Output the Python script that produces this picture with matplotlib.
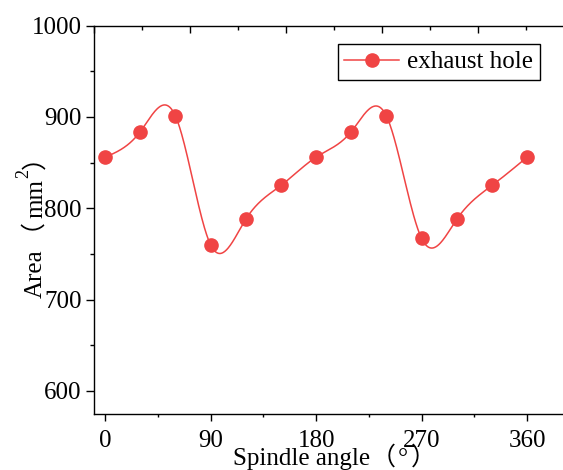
import numpy as np
import matplotlib
matplotlib.use("Agg")
import matplotlib.pyplot as plt
from matplotlib.ticker import MultipleLocator
from matplotlib.transforms import IdentityTransform
from matplotlib.lines import Line2D

# ---- data ----
angles = [0, 30, 60, 90, 120, 150, 180, 210, 240, 270, 300, 330, 360]
area = [856, 884, 901, 760, 788, 825, 856, 884, 901, 767, 788, 825, 856]
series_name = "exhaust hole"
x_ticks = [0, 90, 180, 270, 360]
y_ticks = [600, 700, 800, 900, 1000]

RED = "#F04444"
SERIF = "Liberation Serif"
CJK = "Noto Sans CJK SC"


def natural_spline(x, y, xs):
    x = np.asarray(x, float)
    y = np.asarray(y, float)
    n = len(x)
    h = np.diff(x)
    A = np.zeros((n, n))
    b = np.zeros(n)
    A[0, 0] = 1
    A[-1, -1] = 1
    for i in range(1, n - 1):
        A[i, i - 1] = h[i - 1]
        A[i, i] = 2 * (h[i - 1] + h[i])
        A[i, i + 1] = h[i]
        b[i] = 6 * ((y[i + 1] - y[i]) / h[i] - (y[i] - y[i - 1]) / h[i - 1])
    M = np.linalg.solve(A, b)
    idx = np.clip(np.searchsorted(x, xs) - 1, 0, n - 2)
    x0, x1 = x[idx], x[idx + 1]
    hh = x1 - x0
    t0 = x1 - xs
    t1 = xs - x0
    return (M[idx] * t0 ** 3 / (6 * hh) + M[idx + 1] * t1 ** 3 / (6 * hh)
            + (y[idx] / hh - M[idx] * hh / 6) * t0
            + (y[idx + 1] / hh - M[idx + 1] * hh / 6) * t1)


W, H = 563, 470
fig = plt.figure(figsize=(W / 100, H / 100), dpi=100)
ax = fig.add_axes([94 / W, 56.3 / H, 480 / W, 388 / H])

xs = np.linspace(angles[0], angles[-1], 800)
ax.plot(xs, natural_spline(angles, area, xs), color=RED, lw=1.1, zorder=2)
ax.plot(angles, area, linestyle="none", marker="o", ms=9.5, color=RED, zorder=3)

ax.set_xlim(-9.5, 400)
ax.set_ylim(575, 1000)
ax.set_xticks(x_ticks)
ax.set_yticks(y_ticks)
ax.xaxis.set_minor_locator(MultipleLocator(45))
ax.yaxis.set_minor_locator(MultipleLocator(50))
for s in ax.spines.values():
    s.set_linewidth(1.0)
ax.tick_params(axis="x", which="major", direction="out", length=5, width=1.0,
               pad=7, top=False, labelsize=18)
ax.tick_params(axis="x", which="minor", direction="out", length=2.5, width=1.0, top=False)
ax.tick_params(axis="y", which="major", direction="out", length=5.8, width=1.0,
               pad=3, right=False, labelsize=18)
ax.tick_params(axis="y", which="minor", direction="out", length=3, width=1.0, right=False)
for lab in ax.get_xticklabels() + ax.get_yticklabels():
    lab.set_fontfamily(SERIF)

# top axis (independent scale, ticks only)
ax2 = ax.twiny()
ax2.set_xlim(0, 500)
ax2.xaxis.set_major_locator(MultipleLocator(100))
ax2.xaxis.set_minor_locator(MultipleLocator(50))
ax2.tick_params(axis="x", which="major", direction="in", length=5, width=1.0,
                top=True, bottom=False, labeltop=False, labelbottom=False)
ax2.tick_params(axis="x", which="minor", direction="in", length=3, width=1.0,
                top=True, bottom=False)
for s in ax2.spines.values():
    s.set_visible(False)

# legend
handle = Line2D([], [], color=RED, lw=1.1, marker="o", ms=9.5)
leg = fig.legend([handle], [series_name], loc="upper left",
                 bbox_to_anchor=(337.5 / W, 1 - 44 / H),
                 bbox_transform=fig.transFigure,
                 prop={"family": SERIF, "size": 18},
                 handlelength=2.2, handletextpad=0.3, borderpad=0.27,
                 borderaxespad=0, fancybox=False, framealpha=1)
leg.get_frame().set_edgecolor("black")
leg.get_frame().set_linewidth(1.0)

fig.canvas.draw()
renderer = fig.canvas.get_renderer()
T = IdentityTransform()


def place_run(x0, y0, pieces, vertical):
    """pieces: (text, family, size, gap_before, rise, bearing_fix)"""
    pos = 0.0
    for text, fam, size, gap, rise, fix in pieces:
        pos += gap
        if vertical:
            t = fig.text(x0 - rise - fix, y0 + pos + fix, text, transform=T,
                         rotation=90, rotation_mode="anchor", ha="left",
                         va="baseline", fontsize=size, family=fam)
            pos += t.get_window_extent(renderer).height
        else:
            t = fig.text(x0 + pos, y0 + rise, text, transform=T,
                         ha="left", va="baseline", fontsize=size, family=fam)
            pos += t.get_window_extent(renderer).width


# x label
place_run(233, 5, [("Spindle angle", SERIF, 18, 0, 0, 0),
                   ("（", CJK, 18, 1, 0, 0),
                   ("°", SERIF, 18, 2, 0, 0),
                   ("）", CJK, 18, 3, 0, 0)], vertical=False)

# y label (CJK bracket needs a bearing fix when rotated)
place_run(42, 172, [("Area", SERIF, 18, 0, 0, 0),
                    ("（", CJK, 18, 3, 0, 16.5),
                    ("mm", SERIF, 18, 3, 0, 0),
                    ("2", SERIF, 13, 1, 14, 0),
                    ("）", CJK, 18, 0, 0, 0)], vertical=True)

fig.savefig("out.png", dpi=100)
